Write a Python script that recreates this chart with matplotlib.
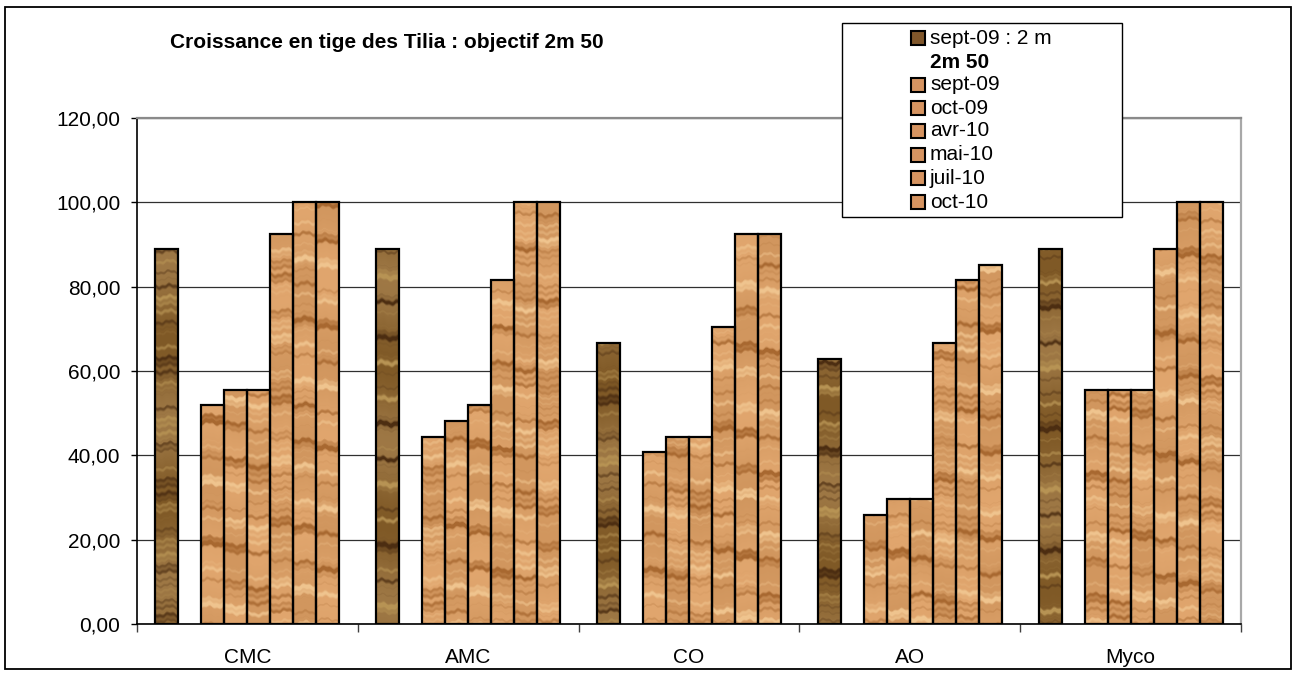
import numpy as np
import matplotlib
matplotlib.use('Agg')
import matplotlib.pyplot as plt
from matplotlib.patches import Rectangle

# ---------------- data ----------------
categories = ['CMC', 'AMC', 'CO', 'AO', 'Myco']
series_labels = ['sept-09 : 2 m', '2m 50', 'sept-09', 'oct-09', 'avr-10',
                 'mai-10', 'juil-10', 'oct-10']
sept09_2m = [88.89, 88.89, 66.67, 62.96, 88.89]
obj_2m50 = [np.nan, np.nan, np.nan, np.nan, np.nan]
sept09 = [51.85, 44.44, 40.74, 25.93, 55.56]
oct09 = [55.56, 48.15, 44.44, 29.63, 55.56]
avr10 = [55.56, 51.85, 44.44, 29.63, 55.56]
mai10 = [92.59, 81.48, 70.37, 66.67, 88.89]
juil10 = [100.0, 100.0, 92.59, 81.48, 100.0]
oct10 = [100.0, 100.0, 92.59, 85.19, 100.0]
y_ticks = [0, 20, 40, 60, 80, 100, 120]
title = 'Croissance en tige des Tilia : objectif 2m 50'

all_series = [sept09_2m, obj_2m50, sept09, oct09, avr10, mai10, juil10, oct10]
dark_flags = [True, False, False, False, False, False, False, False]

W, H = 1298, 675
FONT = 'Liberation Sans'
FS = 15
plt.rcParams['font.family'] = [FONT, 'DejaVu Sans']

fig = plt.figure(figsize=(W / 100, H / 100), dpi=100)
fig.patch.set_facecolor('white')

ax_l, ax_r, ax_t, ax_b = 137, 1241, 118, 624
ax = fig.add_axes([ax_l / W, 1 - ax_b / H, (ax_r - ax_l) / W, (ax_b - ax_t) / H])


def wood_texture(nrows, ncols, dark, phase):
    yy = np.arange(nrows)[:, None].astype(float)
    xx = np.arange(ncols)[None, :].astype(float)
    t = yy + 1.3 * np.sin(2 * np.pi * xx / 19 + phase * 1.3) \
        + 0.6 * np.sin(2 * np.pi * (xx + yy * 0.1) / 7 + phase)
    g = (0.55 * np.sin(2 * np.pi * t / 41 + phase)
         + 0.35 * np.sin(2 * np.pi * t / 17.3 + 2.1 * phase)
         + 0.25 * np.sin(2 * np.pi * t / 7.1 + 0.7 * phase)
         + 0.30 * np.sin(2 * np.pi * t / 113 + 1.7 * phase))
    slow = np.sin(2 * np.pi * t / 160 + 3.1 * phase)[..., None]
    band = (np.clip((g - 0.3) / 0.75, 0, 1) ** 1.2)[..., None]
    light = (np.clip((-g - 0.4) / 0.7, 0, 1))[..., None]
    if dark:
        base = np.array([0.56, 0.41, 0.21]) + 0.06 * slow
        bandc = np.array([0.30, 0.18, 0.07])
        lightc = np.array([0.72, 0.58, 0.33])
    else:
        base = np.array([0.85, 0.62, 0.40]) + 0.03 * slow
        bandc = np.array([0.66, 0.41, 0.19])
        lightc = np.array([0.94, 0.77, 0.56])
    img = base * (1 - band - light) + bandc * band + lightc * light
    return np.clip(img, 0, 1)


n_slots = len(all_series)
gap = 1.6
w = 1.0 / (n_slots + gap)
x = np.arange(len(categories))

for k, (vals, dk) in enumerate(zip(all_series, dark_flags)):
    pos = x - 0.5 + w * (gap / 2 + k + 0.5)
    v = np.array(vals, dtype=float)
    if np.all(np.isnan(v)):
        continue
    bars = ax.bar(pos, v, width=w, facecolor='none', edgecolor='black',
                  linewidth=1.6, zorder=3)
    for j, b in enumerate(bars):
        h = b.get_height()
        if not np.isfinite(h) or h <= 0:
            continue
        x0 = b.get_x()
        nrows = max(2, int(h * 4.2))
        tex = wood_texture(nrows, 23, dk, phase=0.9 * k + 2.3 * j)
        im = ax.imshow(tex, extent=(x0, x0 + w, 0, h), origin='lower',
                       aspect='auto', interpolation='bilinear', zorder=2)
        im.set_clip_path(b)

ax.set_xlim(-0.5, len(categories) - 0.5)
ax.set_ylim(0, 120)
ax.set_aspect('auto')

ax.set_yticks(y_ticks)
ax.set_yticklabels([f'{v:.2f}'.replace('.', ',') for v in y_ticks],
                   fontsize=FS)
ax.tick_params(axis='y', direction='out', length=4, width=1, pad=8,
               color='black')

ax.set_xticks(np.arange(len(categories) + 1) - 0.5)
ax.set_xticklabels([])
ax.tick_params(axis='x', which='major', direction='out', length=6, width=1,
               color='#404040')
ax.set_xticks(x, minor=True)
ax.set_xticklabels(categories, minor=True, fontsize=FS)
ax.tick_params(axis='x', which='minor', length=0, pad=17)

ax.yaxis.grid(True, color='#303030', linewidth=0.9)
ax.set_axisbelow(True)

ax.spines['left'].set_color('black')
ax.spines['left'].set_linewidth(1.2)
ax.spines['bottom'].set_color('black')
ax.spines['bottom'].set_linewidth(1.2)
ax.spines['top'].set_color('#8a8a8a')
ax.spines['top'].set_linewidth(1.6)
ax.spines['right'].set_color('#a8a8a8')
ax.spines['right'].set_linewidth(1.6)

# title
fig.text(170 / W, 1 - 43 / H, title, fontsize=FS, fontweight='bold',
         ha='left', va='center')

# legend (manual, figure pixel layout)
lx0, lx1, ly0, ly1 = 842, 1122, 23, 217
fig.add_artist(Rectangle((lx0 / W, 1 - ly1 / H), (lx1 - lx0) / W,
                         (ly1 - ly0) / H, transform=fig.transFigure,
                         facecolor='white', edgecolor='black', linewidth=1.0,
                         zorder=5))
row_y = [38, 62, 85, 108, 131, 155, 178, 202]
for lab, dk, ry, vals in zip(series_labels, dark_flags, row_y, all_series):
    empty = np.all(np.isnan(np.array(vals, dtype=float)))
    if not empty:
        col = (0.50, 0.34, 0.17) if dk else (0.84, 0.58, 0.38)
        fig.add_artist(Rectangle((911 / W, 1 - (ry + 7) / H), 14 / W, 14 / H,
                                 transform=fig.transFigure, facecolor=col,
                                 edgecolor='black', linewidth=1.5, zorder=6))
    fig.text(930 / W, 1 - ry / H, lab, fontsize=FS,
             fontweight='bold' if empty else 'normal',
             ha='left', va='center', zorder=7)

# outer frame
fig.add_artist(Rectangle((5 / W, 1 - 669 / H), (1291 - 5) / W, (669 - 7) / H,
                         transform=fig.transFigure, facecolor='none',
                         edgecolor='black', linewidth=1.3, zorder=8))

fig.savefig('out.png', dpi=100, facecolor='white')
